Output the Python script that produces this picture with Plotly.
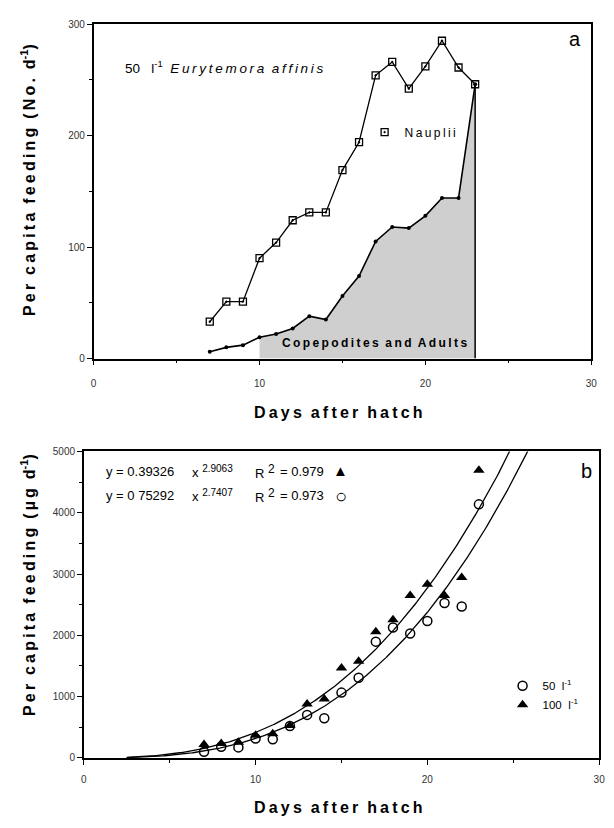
import numpy as np
import plotly.graph_objects as go

W, H = 614, 828
FONT = "Liberation Sans, Arial, sans-serif"

# ---- Panel a data ----
days_a = [7, 8, 9, 10, 11, 12, 13, 14, 15, 16, 17, 18, 19, 20, 21, 22, 23]
nauplii = [33, 51, 51, 90, 104, 124, 131, 131, 169, 194, 254, 266, 242, 262, 285, 261, 246]
copepodites = [6, 10, 12, 19, 22, 27, 38, 35, 56, 74, 105, 118, 117, 128, 144, 144, 246]
shade_start = 10

# ---- Panel b data ----
days_b = [7, 8, 9, 10, 11, 12, 13, 14, 15, 16, 17, 18, 19, 20, 21, 22, 23]
feed_100 = [220, 236, 255, 370, 395, 530, 880, 960, 1468, 1576, 2058, 2256, 2648, 2835, 2648, 2942, 4695]
feed_50 = [101, 182, 172, 317, 305, 520, 702, 648, 1066, 1307, 1897, 2127, 2031, 2235, 2529, 2471, 4137]
fit_100 = (0.39326, 2.9063)
fit_50 = (0.75292, 2.7407)
fit_x_start, fit_x_end = 2.5, 27

THIN = "\u2009"


def sp(s):
    """letter-spaced text: thin spaces between letters, double spaces between words"""
    return "  ".join(THIN.join(w) for w in s.split(" "))


def px(x):
    return x / W


def py(y):
    return 1 - y / H


def sup(t, size=10):
    return "<sup><span style='font-size:%dpx'>%s</span></sup>" % (size, t)


fig = go.Figure()

# shaded area under copepodites
sx = [d for d in days_a if d >= shade_start]
sy = [c for d, c in zip(days_a, copepodites) if d >= shade_start]
fig.add_trace(go.Scatter(x=sx, y=sy, mode="lines", fill="tozeroy",
                         fillcolor="#cfcfcf", line=dict(width=0),
                         showlegend=False, hoverinfo="skip", xaxis="x", yaxis="y"))
fig.add_trace(go.Scatter(x=[days_a[-1], days_a[-1]], y=[0, copepodites[-1]], mode="lines",
                         line=dict(color="black", width=1.5), showlegend=False,
                         xaxis="x", yaxis="y"))
fig.add_trace(go.Scatter(x=days_a, y=copepodites, mode="lines+markers",
                         line=dict(color="black", width=1.6),
                         marker=dict(symbol="circle", size=4, color="black"),
                         showlegend=False, xaxis="x", yaxis="y"))
fig.add_trace(go.Scatter(x=days_a, y=nauplii, mode="lines+markers",
                         line=dict(color="black", width=1.3),
                         marker=dict(symbol="square-open-dot", size=7, color="black",
                                     line=dict(width=1.3, color="black")),
                         showlegend=False, xaxis="x", yaxis="y"))
fig.add_trace(go.Scatter(x=[None], y=[None], mode="markers", name=sp("Nauplii"),
                         marker=dict(symbol="square-open-dot", size=7, color="black",
                                     line=dict(width=1.3, color="black")),
                         legend="legend", xaxis="x", yaxis="y"))

# ---- Panel b traces ----
fx = np.linspace(fit_x_start, fit_x_end, 300)
for a, b in (fit_100, fit_50):
    fig.add_trace(go.Scatter(x=fx, y=a * fx ** b, mode="lines",
                             line=dict(color="black", width=1.3),
                             showlegend=False, hoverinfo="skip", xaxis="x2", yaxis="y2"))
fig.add_trace(go.Scatter(x=days_b, y=feed_50, mode="markers", name="50  l<sup>-1</sup>",
                         marker=dict(symbol="circle-open", size=9, color="black",
                                     line=dict(width=1.5, color="black")),
                         legend="legend2", xaxis="x2", yaxis="y2"))
fig.add_trace(go.Scatter(x=days_b, y=feed_100, mode="markers", name="100  l<sup>-1</sup>",
                         marker=dict(symbol="triangle-up", size=10, color="black"),
                         legend="legend2", xaxis="x2", yaxis="y2"))

axis_common = dict(showline=True, linecolor="black", linewidth=1.5, mirror=True,
                   ticks="outside", ticklen=5, tickcolor="black", tickwidth=1,
                   showgrid=False, zeroline=False,
                   tickfont=dict(family=FONT, size=10, color="#333"))

fig.update_layout(
    width=W, height=H, margin=dict(l=0, r=0, t=0, b=0),
    paper_bgcolor="white", plot_bgcolor="white",
    font=dict(family=FONT, color="black"),
    xaxis=dict(domain=[px(92), px(597)], range=[0, 30], dtick=10, anchor="y",
               ticklabelstandoff=10,
               minor=dict(ticks="outside", ticklen=3, dtick=5, tickcolor="black"),
               **axis_common),
    yaxis=dict(domain=[py(357.7), py(18.3)], range=[0, 300], dtick=100, anchor="x",
               minor=dict(ticks="outside", ticklen=3, dtick=50, tickcolor="black"),
               **axis_common),
    xaxis2=dict(domain=[px(82), px(605)], range=[0, 30], dtick=10, anchor="y2",
                ticklabelstandoff=6,
                minor=dict(ticks="outside", ticklen=3, dtick=5, tickcolor="black"),
                **axis_common),
    yaxis2=dict(domain=[py(763), py(452)], range=[0, 5000], dtick=1000, anchor="x2",
                minor=dict(ticks="outside", ticklen=3, dtick=500, tickcolor="black"),
                **axis_common),
    legend=dict(x=px(367), y=py(128), xanchor="left", yanchor="middle",
                bgcolor="rgba(0,0,0,0)", font=dict(family=FONT, size=12),
                itemwidth=30, tracegroupgap=0),
    legend2=dict(x=px(507), y=py(675), xanchor="left", yanchor="top",
                 bgcolor="rgba(0,0,0,0)", font=dict(family=FONT, size=11.5),
                 itemwidth=30, tracegroupgap=0),
)

ann = [
    dict(x=px(122), y=py(62),
         text="50   l<sup>-1</sup>  <i>" + sp("Eurytemora affinis") + "</i>",
         font=dict(size=13.5), xanchor="left"),
    dict(x=px(377), y=py(342), text="<b>" + sp("Copepodites and Adults") + "</b>",
         font=dict(size=12)),
    dict(x=px(581), y=py(33), text="a", font=dict(size=20)),
    dict(x=px(592), y=py(472), text="b", font=dict(size=20)),
    dict(x=px(340), y=py(412), text="<b>" + sp("Days after hatch") + "</b>", font=dict(size=16)),
    dict(x=px(340), y=py(813), text="<b>" + sp("Days after hatch") + "</b>", font=dict(size=16)),
    dict(x=px(26), y=py(177),
         text="<b>" + sp("Per capita feeding (No. d") + "<sup>-1</sup>)</b>",
         font=dict(size=16), textangle=-90),
    dict(x=px(26), y=py(588),
         text="<b>" + sp("Per capita feeding (µg d") + "<sup>-1</sup>)</b>",
         font=dict(size=16), textangle=-90),
    # equations
    dict(x=px(103), y=py(472), text="y = 0.39326", font=dict(size=13), xanchor="left"),
    dict(x=px(190), y=py(472), text="x " + sup("2.9063"), font=dict(size=13), xanchor="left"),
    dict(x=px(254), y=py(472), text="R " + sup("2", 12), font=dict(size=13), xanchor="left"),
    dict(x=px(279), y=py(472), text="= 0.979", font=dict(size=13), xanchor="left"),
    dict(x=px(343), y=py(471), text="▲", font=dict(size=15)),
    dict(x=px(103), y=py(497), text="y = 0 75292", font=dict(size=13), xanchor="left"),
    dict(x=px(190), y=py(497), text="x " + sup("2.7407"), font=dict(size=13), xanchor="left"),
    dict(x=px(254), y=py(497), text="R " + sup("2", 12), font=dict(size=13), xanchor="left"),
    dict(x=px(279), y=py(497), text="= 0.973", font=dict(size=13), xanchor="left"),
    dict(x=px(343), y=py(497), text="○", font=dict(size=20)),
]
for a in ann:
    a.setdefault("xref", "paper")
    a.setdefault("yref", "paper")
    a.setdefault("showarrow", False)
    a.setdefault("xanchor", "center")
    a.setdefault("yanchor", "middle")
    a["font"].setdefault("family", FONT)
    a["font"].setdefault("color", "black")
fig.update_layout(annotations=ann)

fig.write_html("out.html")
